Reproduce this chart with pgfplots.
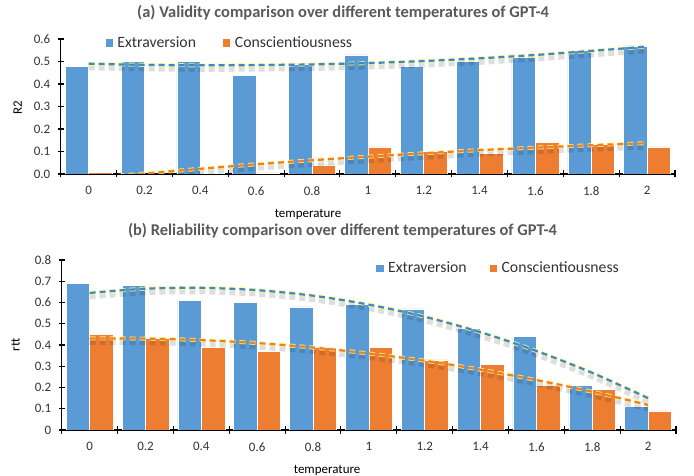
\documentclass[border=0pt]{standalone}
\usepackage{fontspec}
\setmainfont{Carlito}
\usepackage{pgfplots}
\pgfplotsset{compat=1.18}
\definecolor{cblue}{HTML}{5B9BD5}
\definecolor{corange}{HTML}{ED7D31}
\definecolor{tblue}{HTML}{3F87CC}
\definecolor{torange}{HTML}{ED7D31}
\definecolor{tgray}{HTML}{595959}
\definecolor{lgray}{HTML}{333333}

\pgfplotsset{
  legend image code/.code={\fill[#1] (0bp,-4.2bp) rectangle (8.4bp,4.2bp);},
  mybar/.style={ybar, bar width=0.42, draw=white, line width=0.5bp, fill=#1},
  trendshadow/.style={smooth, no markers, draw=black, opacity=0.13, line width=5bp, dash pattern=on 6bp off 4bp, yshift=-4bp, forget plot},
  trendglow/.style={smooth, no markers, draw=yellow!55!white, opacity=0.85, line width=4bp, dash pattern=on 6bp off 4bp, forget plot},
  trend/.style={smooth, no markers, draw=#1, line width=2.2bp, dash pattern=on 6bp off 4bp, forget plot},
  every axis title shift=0pt,
  common/.style={
    scale only axis, width=614.3bp,
    xmin=-0.5, xmax=10.5, ymin=0,
    axis lines=left, axis line style={-, black, line width=1.1bp},
    xtick={0,...,10}, xticklabels={0,0.2,0.4,0.6,0.8,1,1.2,1.4,1.6,1.8,2},
    minor xtick={-0.5,0.5,...,10.5},
    major x tick style={draw=none},
    minor x tick style={black, line width=1.1bp},
    y tick style={black, line width=1.1bp},
    tick align=center, major tick length=6bp, minor tick length=7bp,
    tick label style={font=\fontsize{13}{15}\selectfont, text=lgray},
    xticklabel style={yshift=-6bp},
    yticklabel style={xshift=-4bp},
    label style={font=\fontsize{13}{15}\selectfont, text=black},
    title style={font=\bfseries\fontsize{16.5}{19}\selectfont, text=tgray, anchor=center},
    legend style={draw=none, fill=none, font=\fontsize{15.8}{18}\selectfont, text=lgray, anchor=west, inner sep=0pt, nodes={inner ysep=2bp, inner xsep=4bp}},
    legend columns=2,
  }
}

\begin{document}
\begin{tikzpicture}
\path[use as bounding box] (0,0) rectangle (694bp,476bp);

% (a)
\begin{axis}[common,
  at={(60.7bp,302bp)}, anchor=south west,
  height=135bp, ymax=0.6,
  ytick={0,0.1,...,0.6}, yticklabels={0.0,0.1,0.2,0.3,0.4,0.5,0.6},
  xlabel={temperature}, ylabel={R2},
  xlabel style={at={(rel axis cs:0.4026,-0.300)}, anchor=center},
  ylabel style={at={(rel axis cs:-0.070,0.489)}, anchor=center},
  title={(a) Validity comparison over different temperatures of GPT-4},
  title style={at={(rel axis cs:0.4596,1.195)}},
  legend style={at={(rel axis cs:0.071,0.9726)}, /tikz/every even column/.append style={column sep=22bp}},
]
\addplot[mybar=cblue, bar shift=-0.21] coordinates {(0,0.48)(1,0.50)(2,0.50)(3,0.44)(4,0.49)(5,0.53)(6,0.48)(7,0.50)(8,0.52)(9,0.55)(10,0.57)};
\addlegendentry{Extraversion}
\addplot[mybar=corange, bar shift=0.21] coordinates {(0,0.006)(1,0.001)(2,0.004)(3,0.005)(4,0.04)(5,0.12)(6,0.10)(7,0.09)(8,0.14)(9,0.13)(10,0.12)};
\addlegendentry{Conscientiousness}
% trend lines
\pgfplotstableread{
x ext con
0 0.490 -0.020
1 0.485 0.002
2 0.483 0.023
3 0.484 0.043
4 0.487 0.061
5 0.493 0.077
6 0.502 0.092
7 0.514 0.106
8 0.529 0.117
9 0.547 0.128
10 0.566 0.137
}\trendA
\addplot[trendshadow] table[x=x,y=ext] {\trendA};
\addplot[trendglow] table[x=x,y=ext] {\trendA};
\addplot[trend=tblue] table[x=x,y=ext] {\trendA};
\addplot[trendshadow] table[x=x,y=con] {\trendA};
\addplot[trendglow] table[x=x,y=con] {\trendA};
\addplot[trend=torange] table[x=x,y=con] {\trendA};
\end{axis}

% (b)
\begin{axis}[common,
  at={(61.7bp,46bp)}, anchor=south west,
  height=170bp, ymax=0.8,
  ytick={0,0.1,...,0.8}, yticklabels={0,0.1,0.2,0.3,0.4,0.5,0.6,0.7,0.8},
  xlabel={temperature}, ylabel={rtt},
  xlabel style={at={(rel axis cs:0.432,-0.238)}, anchor=center},
  ylabel style={at={(rel axis cs:-0.0752,0.5)}, anchor=center},
  title={(b) Reliability comparison over different temperatures of GPT-4},
  title style={at={(rel axis cs:0.457,1.17)}},
  legend style={at={(rel axis cs:0.510,0.953)}, /tikz/every even column/.append style={column sep=18bp}},
]
\addplot[mybar=cblue, bar shift=-0.21] coordinates {(0,0.69)(1,0.68)(2,0.61)(3,0.60)(4,0.58)(5,0.59)(6,0.57)(7,0.48)(8,0.44)(9,0.21)(10,0.11)};
\addlegendentry{Extraversion}
\addplot[mybar=corange, bar shift=0.21] coordinates {(0,0.45)(1,0.43)(2,0.39)(3,0.37)(4,0.39)(5,0.39)(6,0.33)(7,0.31)(8,0.21)(9,0.19)(10,0.09)};
\addlegendentry{Conscientiousness}
\pgfplotstableread{
x ext con
0 0.645 0.431
1 0.665 0.430
2 0.669 0.423
3 0.658 0.409
4 0.632 0.388
5 0.590 0.360
6 0.533 0.326
7 0.460 0.284
8 0.372 0.235
9 0.269 0.180
10 0.150 0.118
}\trendB
\addplot[trendshadow] table[x=x,y=ext] {\trendB};
\addplot[trendglow] table[x=x,y=ext] {\trendB};
\addplot[trend=tblue] table[x=x,y=ext] {\trendB};
\addplot[trendshadow] table[x=x,y=con] {\trendB};
\addplot[trendglow] table[x=x,y=con] {\trendB};
\addplot[trend=torange] table[x=x,y=con] {\trendB};
\end{axis}
\end{tikzpicture}
\end{document}
